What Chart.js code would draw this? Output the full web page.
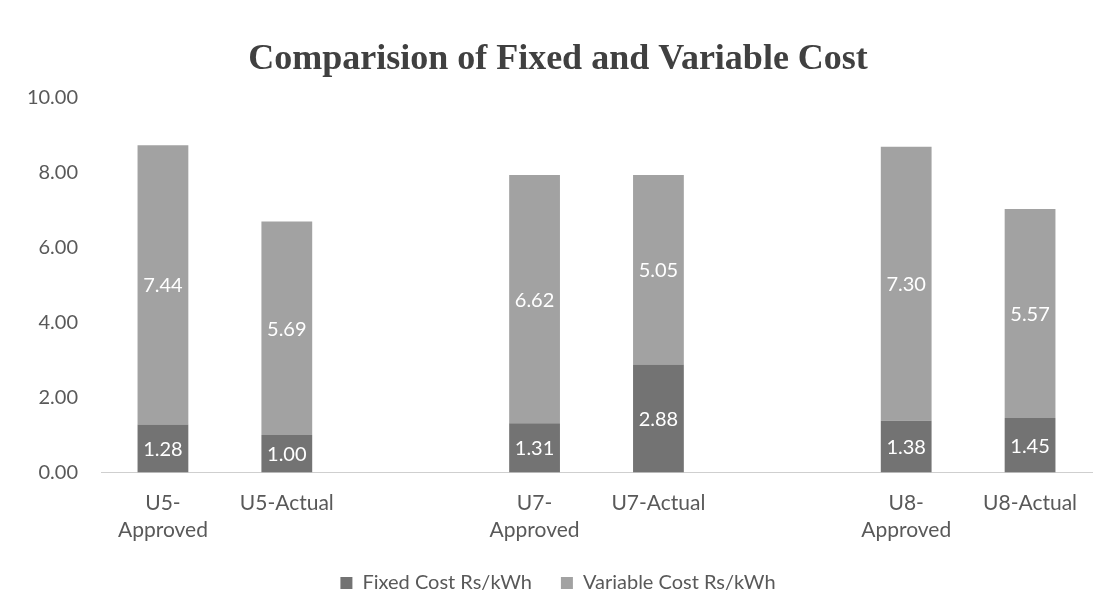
<!DOCTYPE html>
<html>
<head>
<meta charset="utf-8">
<script src="https://cdn.jsdelivr.net/npm/chart.js@4.4.1/dist/chart.umd.min.js"></script>
<style>
  html, body { margin: 0; padding: 0; background: #fff; }
  #wrap { width: 1106px; height: 609px; }
</style>
</head>
<body>
<div id="wrap"><canvas id="costChart"></canvas></div>
<script>
// ---------- DATA ----------
const categories = [
  ["U5-", "Approved"], "U5-Actual", "",
  ["U7-", "Approved"], "U7-Actual", "",
  ["U8-", "Approved"], "U8-Actual"
];
const fixedCost = [1.28, 1.00, null, 1.31, 2.88, null, 1.38, 1.45];
const variableCost = [7.44, 5.69, null, 6.62, 5.05, null, 7.30, 5.57];
const yTicks = [0, 2, 4, 6, 8, 10];

const labelFont = "Lato, 'Open Sans', sans-serif";

// white value labels in the middle of each segment
const barLabels = {
  id: "barLabels",
  afterDatasetsDraw(chart) {
    const ctx = chart.ctx;
    ctx.save();
    ctx.fillStyle = "#ffffff";
    ctx.font = "20px " + labelFont;
    ctx.textAlign = "center";
    ctx.textBaseline = "middle";
    chart.data.datasets.forEach((ds, i) => {
      const meta = chart.getDatasetMeta(i);
      meta.data.forEach((bar, j) => {
        const v = ds.data[j];
        if (v == null) return;
        const p = bar.getProps(["x", "y", "base"], true);
        ctx.fillText(v.toFixed(2), p.x, (p.y + p.base) / 2 + 1);
      });
    });
    ctx.restore();
  },
};

const ctx = document.getElementById("costChart").getContext("2d");
new Chart(ctx, {
  type: "bar",
  data: {
    labels: categories,
    datasets: [
      {
        label: "Fixed Cost Rs/kWh",
        data: fixedCost,
        backgroundColor: "#737373",
        categoryPercentage: 1,
        barPercentage: 0.41,
      },
      {
        label: "Variable Cost Rs/kWh",
        data: variableCost,
        backgroundColor: "#a2a2a2",
        categoryPercentage: 1,
        barPercentage: 0.41,
      },
    ],
  },
  options: {
    responsive: true,
    maintainAspectRatio: false,
    animation: false,
    layout: { padding: { left: 24, right: 14, top: 0, bottom: 6 } },
    plugins: {
      title: {
        display: true,
        text: "Comparision of Fixed and Variable Cost",
        color: "#404040",
        font: { family: "'Liberation Serif', 'DejaVu Serif', serif", size: 36, weight: "bold" },
        padding: { top: 38, bottom: 16 },
      },
      legend: {
        position: "bottom",
        labels: {
          color: "#595959",
          font: { family: labelFont, size: 20 },
          boxWidth: 12,
          boxHeight: 12,
          padding: 29,
        },
      },
      tooltip: { enabled: false },
    },
    scales: {
      x: {
        stacked: true,
        grid: { display: false },
        border: { display: true, color: "#cfcfcf", width: 1 },
        afterFit: (scale) => {
          scale.height = scale.height - 9;
        },
        ticks: {
          color: "#595959",
          font: { family: labelFont, size: 21, lineHeight: 1.25 },
          padding: 10,
          maxRotation: 0,
          autoSkip: false,
        },
      },
      y: {
        stacked: true,
        min: 0,
        max: 10,
        grid: { display: false },
        border: { display: false },
        afterBuildTicks: (scale) => {
          scale.ticks = yTicks.map((v) => ({ value: v }));
        },
        afterFit: (scale) => {
          scale.width = 77;
        },
        ticks: {
          color: "#595959",
          font: { family: labelFont, size: 20 },
          padding: 15,
          callback: (v) => Number(v).toFixed(2),
        },
      },
    },
  },
  plugins: [barLabels],
});
</script>
</body>
</html>
